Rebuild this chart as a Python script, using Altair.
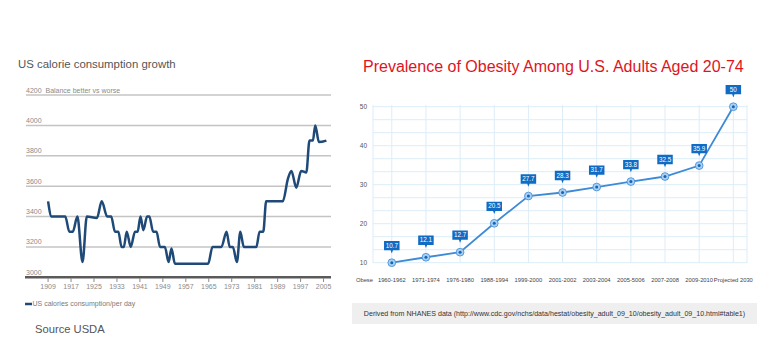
import altair as alt
import pandas as pd

# ---------------- Left panel: US calorie consumption ----------------
cal_years = [1909, 1910.2, 1915, 1916.4, 1917.6, 1919.2, 1921, 1922.5, 1926, 1927.7,
             1929.6, 1931, 1932.3, 1933.5, 1934.6, 1935.4, 1936.4, 1937.8, 1939.3, 1940.2,
             1941.2, 1942.2, 1943.5, 1944.3, 1945.6, 1946.8, 1948, 1949.7, 1951, 1952,
             1953.2, 1964.8, 1966.3, 1969.4, 1971.2, 1972.3, 1973.4, 1974.8, 1976, 1977.2,
             1981.6, 1982.7, 1984, 1985, 1990.8, 1992.6, 1993.8, 1995.5, 1997.2, 1999,
             2000.1, 2001.3, 2002.1, 2003.4, 2006]
cal_values = [3500, 3400, 3400, 3300, 3300, 3400, 3100, 3400, 3390, 3500,
              3400, 3400, 3300, 3300, 3200, 3200, 3300, 3200, 3300, 3300,
              3400, 3310, 3400, 3400, 3300, 3300, 3200, 3200, 3100, 3190,
              3090, 3090, 3200, 3200, 3300, 3200, 3200, 3100, 3300, 3200,
              3200, 3300, 3300, 3500, 3500, 3650, 3700, 3590, 3700, 3690,
              3900, 3900, 4000, 3890, 3900]
cal_grid = [3200, 3400, 3600, 3800, 4000, 4200]
cal_ytick_values = [3000, 3200, 3400, 3600, 3800, 4000, 4200]
cal_ytick_labels = ["3000", "3200", "3400", "3600", "3800", "4000",
                    "4200\u00a0\u00a0Balance better vs worse"]
cal_xticks = [1909, 1917, 1925, 1933, 1941, 1949, 1957, 1965, 1973, 1981, 1989, 1997, 2005]

# ---------------- Right panel: obesity prevalence ----------------
ob_periods = ["1960-1962", "1971-1974", "1976-1980", "1988-1994", "1999-2000", "2001-2002",
              "2003-2004", "2005-5006", "2007-2008", "2009-2010", "Projected 2030"]
ob_values = [10.0, 11.4, 12.7, 20.1, 27.1, 28.0, 29.4, 30.8, 32.1, 34.9, 50.0]
ob_labels = ["10.7", "12.1", "12.7", "20.5", "27.7", "28.3", "31.7", "33.8", "32.5", "35.9", "50"]
ob_yticks = [10, 20, 30, 40, 50]
ob_hgrid = [10, 13.33, 16.67, 20, 23.33, 26.67, 30, 33.33, 36.67, 40, 43.33, 46.67, 50]
ob_vgrid = [-0.55, 0, 1, 2, 3, 4, 5, 6, 7, 8, 9, 10, 10.4]

NAVY = "#1f4a78"
BLUE = "#3d8ad6"
BOX = "#0f6bc4"
SANS = "Liberation Sans, Arial, Helvetica, sans-serif"

xL = alt.Scale(domain=[1901.3, 2007.6], range=[26, 331], nice=False, zero=False)
yL = alt.Scale(domain=[3000, 4200], range=[277.3, 95], nice=False, zero=False)
xR = alt.Scale(domain=[-0.55, 10.4], range=[373, 747], nice=False, zero=False)
yR = alt.Scale(domain=[10, 50], range=[262.7, 106.7], nice=False, zero=False)

cal_df = pd.DataFrame({"year": cal_years, "cal": cal_values})
calgrid_df = pd.DataFrame({"v": cal_grid})
calytk_df = pd.DataFrame({"v": cal_ytick_values, "lab": cal_ytick_labels})
calxtk_df = pd.DataFrame({"yr": cal_xticks, "lab": [str(y) for y in cal_xticks]})

ob_df = pd.DataFrame({"idx": list(range(len(ob_periods))), "period": ob_periods,
                      "val": ob_values, "lab": ob_labels})
obh_df = pd.DataFrame({"v": ob_hgrid})
obv_df = pd.DataFrame({"i": ob_vgrid})
oby_df = pd.DataFrame({"v": ob_yticks, "lab": [str(v) for v in ob_yticks]})

one = pd.DataFrame({"k": [0]})

# left layers
l_grid = alt.Chart(calgrid_df).mark_rule(color="#c4c4c4", strokeWidth=1.5).encode(
    y=alt.Y("v:Q", scale=yL, axis=None), x=alt.value(26), x2=alt.value(331))
l_axis = alt.Chart(one).mark_rule(color="#5a5a5a", strokeWidth=2.5).encode(
    y=alt.Y("d:Q", scale=yL, axis=None), x=alt.value(25), x2=alt.value(331)
).transform_calculate(d="3000")
l_ylab = alt.Chart(calytk_df).mark_text(align="left", baseline="bottom", dy=-1.5, fontSize=7,
                                        font=SANS, color="#8a8a8a").encode(
    y=alt.Y("v:Q", scale=yL, axis=None), x=alt.value(26), text="lab:N")
l_xtick = alt.Chart(calxtk_df).mark_rule(color="#8a8a8a", strokeWidth=1).encode(
    x=alt.X("yr:Q", scale=xL, axis=None), y=alt.value(278), y2=alt.value(282))
l_xlab = alt.Chart(calxtk_df).mark_text(baseline="middle", fontSize=7, font=SANS,
                                        color="#8a8a8a").encode(
    x=alt.X("yr:Q", scale=xL, axis=None), y=alt.value(287), text="lab:N")
l_line = alt.Chart(cal_df).mark_line(color=NAVY, strokeWidth=2.5, interpolate="monotone").encode(
    x=alt.X("year:Q", scale=xL, axis=None), y=alt.Y("cal:Q", scale=yL, axis=None))
l_leg = alt.Chart(one).mark_rule(color=NAVY, strokeWidth=2.5).encode(
    x=alt.value(25), x2=alt.value(32), y=alt.value(304))
l_legt = alt.Chart(one).mark_text(align="left", baseline="middle", fontSize=7, font=SANS,
                                  color="#7a7a7a", text="US calories consumption/per day").encode(
    x=alt.value(32.5), y=alt.value(304))
l_title = alt.Chart(one).mark_text(align="left", baseline="middle", fontSize=11.4, font=SANS,
                                   color="#555555", text="US calorie consumption growth").encode(
    x=alt.value(18), y=alt.value(65))
l_src = alt.Chart(one).mark_text(align="left", baseline="middle", fontSize=11.2, font=SANS,
                                 color="#555555", text="Source USDA").encode(
    x=alt.value(35), y=alt.value(330))

# right layers
r_h = alt.Chart(obh_df).mark_rule(color="#dcedf8", strokeWidth=1).encode(
    y=alt.Y("v:Q", scale=yR, axis=None), x=alt.value(373), x2=alt.value(747))
r_v = alt.Chart(obv_df).mark_rule(color="#dcedf8", strokeWidth=1).encode(
    x=alt.X("i:Q", scale=xR, axis=None), y=alt.value(105), y2=alt.value(263))
r_line = alt.Chart(ob_df).mark_line(color=BLUE, strokeWidth=1.8).encode(
    x=alt.X("idx:Q", scale=xR, axis=None), y=alt.Y("val:Q", scale=yR, axis=None))
r_halo = alt.Chart(ob_df).mark_circle(size=60, color="#a9d0f3", opacity=1,
                                      stroke=BLUE, strokeWidth=0.8).encode(
    x=alt.X("idx:Q", scale=xR, axis=None), y=alt.Y("val:Q", scale=yR, axis=None))
r_dot = alt.Chart(ob_df).mark_circle(size=9, color="#1464b8", opacity=1).encode(
    x=alt.X("idx:Q", scale=xR, axis=None), y=alt.Y("val:Q", scale=yR, axis=None))
callout = "M-1,-0.6L1,-0.6L1,0.6L0.15,0.6L0,1L-0.15,0.6L-1,0.6Z"
r_box = alt.Chart(ob_df).mark_point(shape=callout, size=240, filled=True, color=BOX, opacity=1,
                                    yOffset=-17).encode(
    x=alt.X("idx:Q", scale=xR, axis=None), y=alt.Y("val:Q", scale=yR, axis=None))
r_boxt = alt.Chart(ob_df).mark_text(color="white", fontSize=6.3, font=SANS, baseline="middle",
                                    dy=-17).encode(
    x=alt.X("idx:Q", scale=xR, axis=None), y=alt.Y("val:Q", scale=yR, axis=None), text="lab:N")
r_ylab = alt.Chart(oby_df).mark_text(align="right", baseline="middle", fontSize=6.5, font=SANS,
                                     color="#555555").encode(
    y=alt.Y("v:Q", scale=yR, axis=None), x=alt.value(367), text="lab:N")
r_xlab = alt.Chart(ob_df).mark_text(baseline="middle", fontSize=5.8, font=SANS,
                                    color="#444444").encode(
    x=alt.X("idx:Q", scale=xR, axis=None), y=alt.value(280), text="period:N")
r_obese = alt.Chart(one).mark_text(align="right", baseline="middle", fontSize=5.8, font=SANS,
                                   color="#444444", text="Obese").encode(
    x=alt.value(373), y=alt.value(280))
r_title = alt.Chart(one).mark_text(align="left", baseline="middle", fontSize=16, font=SANS,
                                   color="#e0141e",
                                   text="Prevalence of Obesity Among U.S. Adults Aged 20-74").encode(
    x=alt.value(363), y=alt.value(67))
r_srcbox = alt.Chart(one).mark_rect(color="#efefef").encode(
    x=alt.value(352), x2=alt.value(757), y=alt.value(303), y2=alt.value(324))
r_srct = alt.Chart(one).mark_text(align="center", baseline="middle", fontSize=7.1, font=SANS,
                                  color="#333333",
                                  text="Derived from NHANES data (http://www.cdc.gov/nchs/data/hestat/obesity_adult_09_10/obesity_adult_09_10.html#table1)").encode(
    x=alt.value(554.5), y=alt.value(313.5))

chart = alt.layer(
    l_grid, l_axis, l_ylab, l_xtick, l_xlab, l_line, l_leg, l_legt, l_title, l_src,
    r_h, r_v, r_line, r_halo, r_dot, r_box, r_boxt, r_ylab, r_xlab, r_obese, r_title,
    r_srcbox, r_srct
).resolve_scale(x="independent", y="independent").properties(
    width=780, height=352, padding=0, autosize=alt.AutoSizeParams(type="none"),
    background="white"
).configure_view(stroke=None)

chart.save("out.html", embed_options={"renderer": "svg", "actions": False})
